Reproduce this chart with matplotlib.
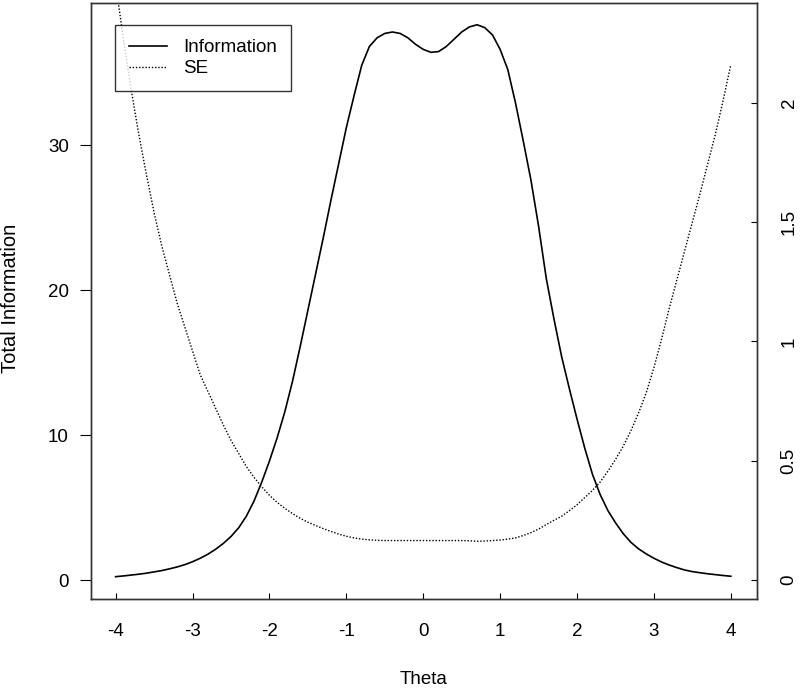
import numpy as np
import matplotlib.pyplot as plt

plt.rcParams['font.family'] = ['Liberation Sans', 'DejaVu Sans']
plt.rcParams['axes.unicode_minus'] = False

theta = [-4.0, -3.9, -3.8, -3.7, -3.6, -3.5, -3.4, -3.3, -3.2, -3.1,
         -3.0, -2.9, -2.8, -2.7, -2.6, -2.5, -2.4, -2.3, -2.2, -2.1,
         -2.0, -1.9, -1.8, -1.7, -1.6, -1.5, -1.4, -1.3, -1.2, -1.1,
         -1.0, -0.9, -0.8, -0.7, -0.6, -0.5, -0.4, -0.3, -0.2, -0.1,
         0.0, 0.1, 0.2, 0.3, 0.4, 0.5, 0.6, 0.7, 0.8, 0.9,
         1.0, 1.1, 1.2, 1.3, 1.4, 1.5, 1.6, 1.7, 1.8, 1.9,
         2.0, 2.1, 2.2, 2.3, 2.4, 2.5, 2.6, 2.7, 2.8, 2.9,
         3.0, 3.1, 3.2, 3.3, 3.4, 3.5, 3.6, 3.7, 3.8, 3.9, 4.0]

info = [0.23, 0.28, 0.34, 0.40, 0.47, 0.56, 0.65, 0.77, 0.90, 1.06,
        1.26, 1.5, 1.78, 2.12, 2.52, 3.0, 3.6, 4.4, 5.45, 6.75,
        8.2, 9.8, 11.6, 13.7, 16.1, 18.6, 21.1, 23.6, 26.2, 28.7,
        31.2, 33.4, 35.5, 36.8, 37.4, 37.7, 37.8, 37.7, 37.4, 36.95,
        36.6, 36.4, 36.45, 36.8, 37.3, 37.8, 38.15, 38.3, 38.1, 37.6,
        36.6, 35.2, 32.9, 30.3, 27.6, 24.4, 20.8, 18.0, 15.4, 13.2,
        11.1, 9.1, 7.3, 5.9, 4.8, 3.95, 3.2, 2.6, 2.15, 1.8,
        1.5, 1.24, 1.03, 0.85, 0.69, 0.58, 0.50, 0.43, 0.37, 0.31, 0.26]

se = [2.50, 2.27, 2.06, 1.87, 1.70, 1.54, 1.40, 1.28, 1.16, 1.06,
      0.96, 0.86, 0.79, 0.72, 0.65, 0.585, 0.53, 0.475, 0.43, 0.39,
      0.355, 0.325, 0.30, 0.278, 0.258, 0.242, 0.228, 0.215, 0.203, 0.192,
      0.183, 0.176, 0.171, 0.168, 0.166, 0.165, 0.165, 0.165, 0.165, 0.165,
      0.165, 0.165, 0.165, 0.165, 0.165, 0.165, 0.164, 0.162, 0.163, 0.165,
      0.167, 0.171, 0.176, 0.186, 0.198, 0.213, 0.232, 0.25, 0.267, 0.29,
      0.315, 0.345, 0.375, 0.41, 0.455, 0.505, 0.56, 0.625, 0.70, 0.785,
      0.89, 1.01, 1.14, 1.26, 1.38, 1.50, 1.62, 1.745, 1.87, 2.01, 2.16]

x_ticks = [-4, -3, -2, -1, 0, 1, 2, 3, 4]
info_ticks = [0, 10, 20, 30]
se_ticks = [0, 0.5, 1, 1.5, 2]
se_tick_labels = ['0', '0.5', '1', '1.5', '2']

fs = 13.5

fig = plt.figure(figsize=(8, 6.89), dpi=100)
ax = fig.add_axes([91/800, 1 - 599/689, 666/800, 596/689])

l1, = ax.plot(theta, info, color='black', lw=1.2, label='Information')
ax.set_xlim(-4.32, 4.34)
ax.set_ylim(-1.31, 39.8)
ax.set_xticks(x_ticks)
ax.set_yticks(info_ticks)
ax.tick_params(axis='x', direction='in', length=4.5, pad=17, labelsize=fs)
ax.tick_params(axis='y', direction='out', length=8, pad=8, labelsize=fs)

ax2 = ax.twinx()
l2, = ax2.plot(theta, se, color='black', lw=1.0, linestyle=(0, (1, 1.3)), label='SE')
ax2.set_ylim(-0.08, 2.418)
ax2.set_yticks(se_ticks)
ax2.set_yticklabels(se_tick_labels, rotation=90, va='center')
ax2.tick_params(axis='y', direction='in', length=4, pad=17, labelsize=fs)

for a in (ax, ax2):
    for s in a.spines.values():
        s.set_color('#333333')
        s.set_linewidth(1.0)

fig.text(424/800, 1 - 679/689, 'Theta', ha='center', va='center', fontsize=fs)
fig.text(11/800, 1 - 298/689, 'Total Information', ha='center', va='center',
         rotation=90, fontsize=14.5)

leg = ax2.legend(handles=[l1, l2], loc='upper left',
                 bbox_to_anchor=(115/800, 1 - 25/689), bbox_transform=fig.transFigure,
                 fontsize=fs, frameon=True, fancybox=False, edgecolor='black',
                 handlelength=2.0, handletextpad=0.9, labelspacing=0.2,
                 borderpad=0.75, borderaxespad=0)
leg.get_frame().set_linewidth(1.0)

fig.savefig('out.png', dpi=100)
